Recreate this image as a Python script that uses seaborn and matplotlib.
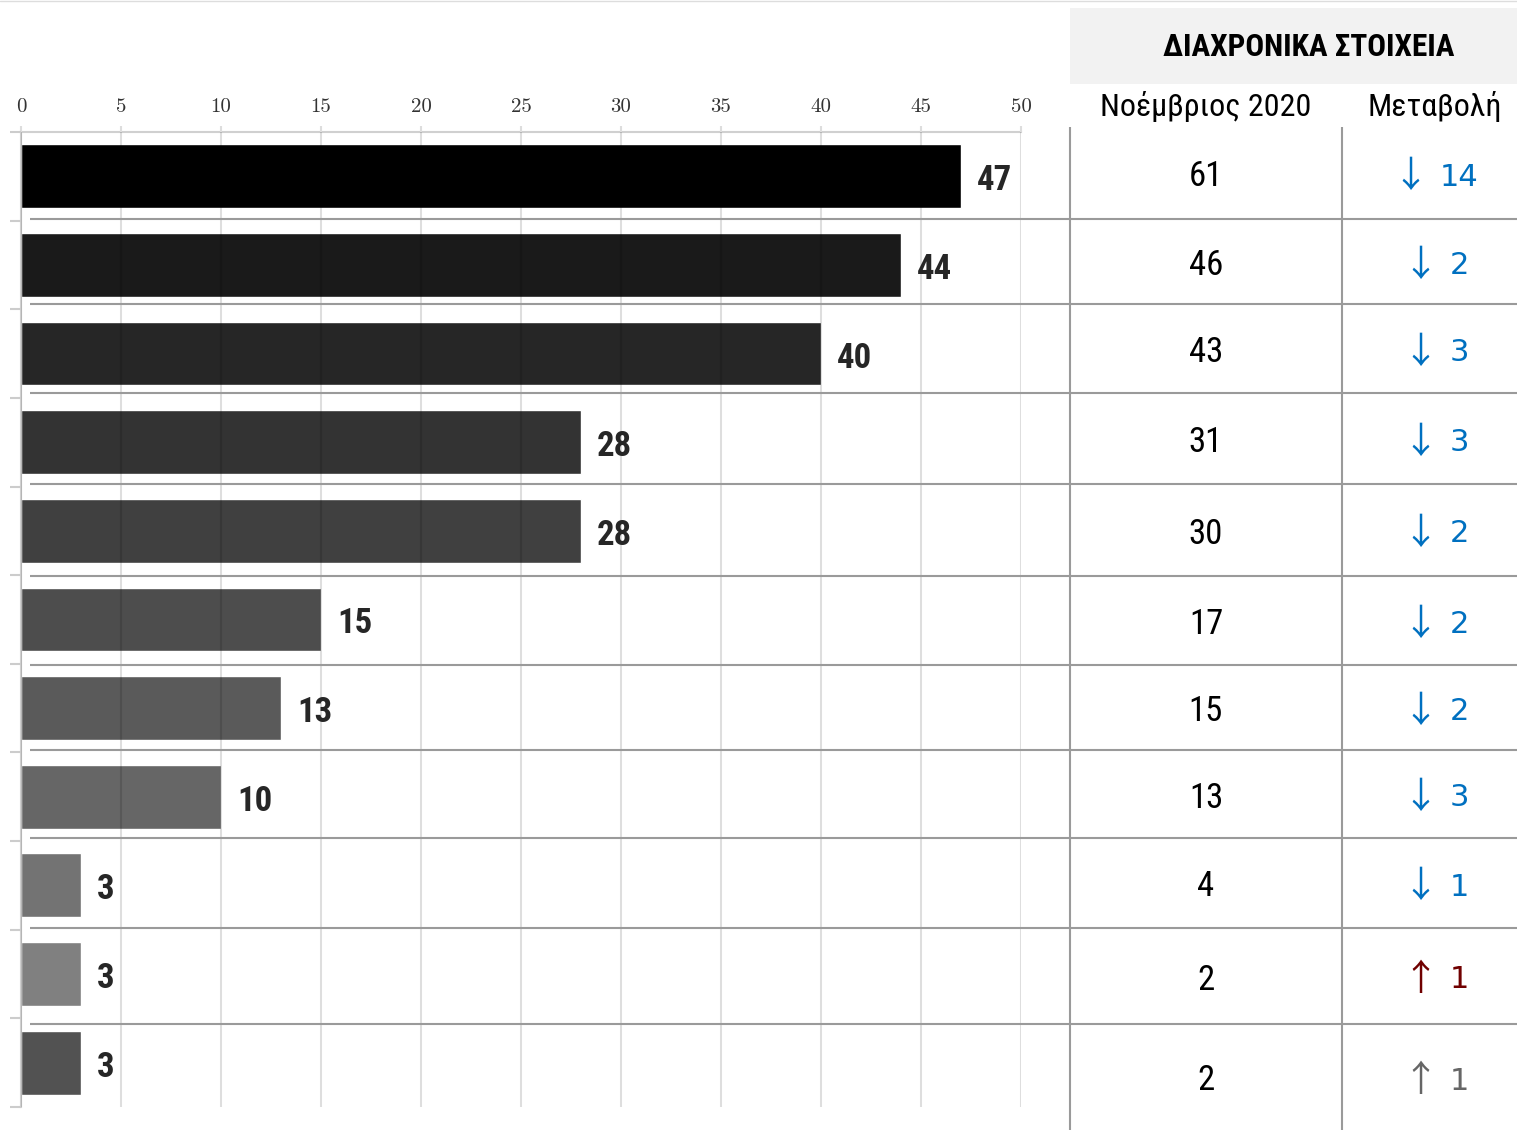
import matplotlib
matplotlib.use("Agg")
import matplotlib.pyplot as plt
import seaborn as sns
import numpy as np
import pandas as pd
from matplotlib import font_manager

# Δεδομένα
rows = [f"r{i}" for i in range(1, 12)]
values = [47, 44, 40, 28, 28, 15, 13, 10, 3, 3, 3]
bar_colors = ["#000000", "#1a1a1a", "#262626", "#333333", "#404040", "#4d4d4d",
              "#5a5a5a", "#666666", "#737373", "#808080", "#525252"]
nov2020 = [61, 46, 43, 31, 30, 17, 15, 13, 4, 2, 2]
change = [14, 2, 3, 3, 2, 2, 2, 3, 1, 1, 1]
direction = ["down"] * 9 + ["up", "up"]
change_colors = ["#0070c0"] * 9 + ["#700000", "#666666"]
xticks = list(range(0, 51, 5))

title = "ΔΙΑΧΡΟΝΙΚΑ ΣΤΟΙΧΕΙΑ"
col_headers = ["Νοέμβριος 2020", "Μεταβολή"]

# στενή γραμματοσειρά, αν υπάρχει
fl = font_manager.fontManager.ttflist
names = {f.name for f in fl}
narrow, stretch = "Liberation Sans", "normal"
if "Liberation Sans Narrow" in names:
    narrow = "Liberation Sans Narrow"
elif "Roboto Condensed" in names:
    narrow = "Roboto Condensed"
else:
    for fam in ["Noto Sans", "DejaVu Sans", "Open Sans", "Roboto"]:
        if any(f.name == fam and "condensed" in str(f.stretch) for f in fl):
            narrow, stretch = fam, "condensed"
            break

sns.set_style("white")
plt.rcParams["font.family"] = [narrow, "DejaVu Sans"]
plt.rcParams["font.stretch"] = stretch
plt.rcParams["text.color"] = "black"

W, H = 1517, 1130
fig = plt.figure(figsize=(W / 100, H / 100), dpi=100)

# Γράφημα ράβδων
ax = fig.add_axes([21 / W, (H - 1107) / H, 1000 / W, 975 / H])
df = pd.DataFrame({"row": rows, "value": values})
sns.barplot(data=df, x="value", y="row", hue="row", palette=bar_colors,
            legend=False, width=0.72, saturation=1, ax=ax)
ax.set_xlim(0, 50)
ax.set_ylim(10.5, -0.5)
ax.set_xlabel("")
ax.set_ylabel("")
ax.xaxis.tick_top()
ax.set_xticks(xticks)
ax.set_xticklabels([str(t) for t in xticks], fontfamily="cmr10", fontsize=15, color="#333333")
ax.tick_params(axis="x", length=4.5, width=1.5, color="#dddddd", pad=7)
ax.set_yticks(np.arange(-0.5, 11, 1))
ax.set_yticklabels([])
ax.tick_params(axis="y", length=8, width=1.5, color="#cccccc", left=True)
ax.set_axisbelow(False)
ax.grid(axis="x", color="black", alpha=0.13, lw=1.5)
for s in ["right", "bottom"]:
    ax.spines[s].set_visible(False)
for s in ["top", "left"]:
    ax.spines[s].set_color("#d0d0d0")
    ax.spines[s].set_linewidth(1.5)

for i, v in enumerate(values):
    ax.text(v + 0.8, i + 0.05, str(v), va="center", ha="left", fontsize=25,
            fontweight="bold", color="#262626")

# Πίνακας
tab = fig.add_axes([0, 0, 1, 1])
tab.set_xlim(0, W)
tab.set_ylim(H, 0)
tab.axis("off")

edges = [127, 219, 304, 393, 484, 576, 665, 750, 838, 928, 1024, 1130]
tab.axhline(1, color="#dddddd", lw=1)
tab.add_patch(plt.Rectangle((1070, 8), 447, 76, color="#f2f2f2", lw=0))
tab.text(1309, 47, title, ha="center", va="center", fontsize=22.5,
         fontweight="bold")
tab.text(1206, 106, col_headers[0], ha="center", va="center", fontsize=23)
tab.text(1435, 106, col_headers[1], ha="center", va="center", fontsize=23)
tab.vlines([1070, 1342], 127, 1130, color="#9a9a9a", lw=1.5)
tab.hlines(edges[1:-1], 30, W, color="#9a9a9a", lw=1.5)

for i in range(len(rows)):
    yc = (edges[i] + edges[i + 1]) / 2 + 4
    tab.text(1206, yc, str(nov2020[i]), ha="center", va="center", fontsize=25)
    arrow = "↓" if direction[i] == "down" else "↑"
    nx = 1440 if change[i] >= 10 else 1450
    tab.text(nx, yc, str(change[i]), ha="left", va="center",
             fontsize=22, color=change_colors[i], family=["DejaVu Sans"],
             fontstretch="normal")
    tab.text(nx - 30, yc, arrow, ha="center", va="center",
             fontsize=26, color=change_colors[i],
             family=["Noto Sans CJK JP", "DejaVu Sans"],
             fontstretch="normal", fontweight="normal")

fig.savefig("out.png", dpi=100)
